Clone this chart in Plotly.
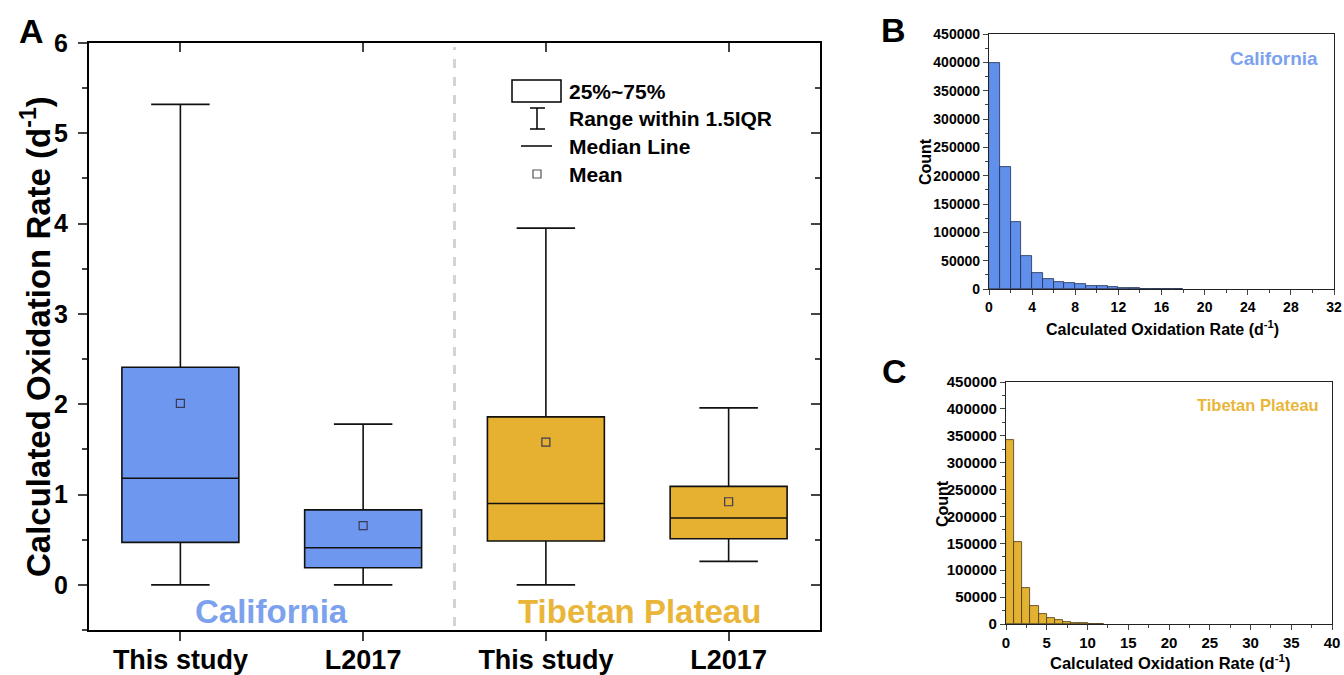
import plotly.graph_objects as go

# ---------------- data ----------------
groups = ["This study", "L2017", "This study", "L2017"]
regions = ["California", "California", "Tibetan Plateau", "Tibetan Plateau"]
q1 = [0.47, 0.19, 0.485, 0.51]
median = [1.18, 0.41, 0.90, 0.74]
q3 = [2.41, 0.83, 1.86, 1.09]
lower = [0.0, 0.0, 0.0, 0.26]
upper = [5.32, 1.78, 3.95, 1.96]
mean = [2.01, 0.655, 1.58, 0.92]

ca_bin_start = list(range(0, 18))
ca_counts = [398000, 216000, 118000, 57600, 28800, 17000, 12900, 10600, 8200, 5900,
             4700, 3500, 1800, 1200, 800, 400, 200, 100]

tp_bin_start = list(range(0, 12))
tp_counts = [342500, 152700, 66400, 34100, 19200, 10600, 6800, 4300, 2500, 1200,
             600, 250]

BLUE = "#6E97F0"
BLUE_H = "#6090EC"
GOLD = "#E6B030"
GOLD_H = "#E3B232"
BLUE_TXT = "#7CA2EE"
GOLD_TXT = "#E9B63A"
FONT = "Liberation Sans, Arial, sans-serif"

W, H = 1344, 675


def px(x):
    return x / W


def py(y):
    return 1 - y / H


fig = go.Figure()

box_colors = [BLUE, BLUE, GOLD, GOLD]
for i in range(len(groups)):
    fig.add_trace(go.Box(
        x=[i], q1=[q1[i]], median=[median[i]], q3=[q3[i]],
        lowerfence=[lower[i]], upperfence=[upper[i]],
        width=0.64, whiskerwidth=0.5,
        fillcolor=box_colors[i], line=dict(color="#111111", width=1.6),
        xaxis="x", yaxis="y", showlegend=False, boxpoints=False,
    ))
# means drawn on the overlaying (mirror) axes, which share the same ranges
fig.add_trace(go.Scatter(
    x=list(range(len(groups))), y=mean, mode="markers",
    marker=dict(symbol="square-open", size=8, color="#3a3a55", line=dict(width=1.2)),
    xaxis="x2", yaxis="y2", showlegend=False,
))

# histograms
fig.add_trace(go.Bar(x=ca_bin_start, y=ca_counts, width=1, offset=0,
                     marker=dict(color=BLUE_H, line=dict(color="#1f2f55", width=0.8)),
                     xaxis="x3", yaxis="y3", showlegend=False))
fig.add_trace(go.Bar(x=tp_bin_start, y=tp_counts, width=1, offset=0,
                     marker=dict(color=GOLD_H, line=dict(color="#4a3a10", width=0.8)),
                     xaxis="x4", yaxis="y4", showlegend=False))

axfont = dict(family=FONT, color="black", weight="bold")
common = dict(showgrid=False, zeroline=False, automargin=False)

fig.update_layout(
    width=W, height=H, margin=dict(l=0, r=0, t=0, b=0, autoexpand=False),
    paper_bgcolor="white", plot_bgcolor="white",
    font=dict(family=FONT, color="black"),
    bargap=0,
    xaxis=dict(domain=[px(89), px(820)], range=[-0.5, 3.5], tickvals=[0, 1, 2, 3],
               ticktext=groups, ticks="outside", ticklen=9, tickwidth=2,
               showline=True, linewidth=2, linecolor="black",
               tickfont=dict(size=27, **axfont), ticklabelstandoff=-4,
               anchor="y", **common),
    yaxis=dict(domain=[py(630), py(43)], range=[-0.5, 6], tick0=0, dtick=1,
               ticks="outside", ticklen=9, tickwidth=2,
               minor=dict(dtick=0.5, tick0=0, ticks="outside", ticklen=5, tickwidth=1.5),
               showline=True, linewidth=2, linecolor="black",
               tickfont=dict(size=25, **axfont), ticklabelstandoff=5,
               anchor="x", **common),
    xaxis2=dict(overlaying="x", matches="x", side="top", anchor="y2", tickvals=[0, 1, 2, 3],
                showticklabels=False, ticks="inside", ticklen=9, tickwidth=2,
                showline=True, linewidth=2, linecolor="black", **common),
    yaxis2=dict(overlaying="y", matches="y", side="right", anchor="x2", tick0=0, dtick=1,
                showticklabels=False, ticks="inside", ticklen=9, tickwidth=2,
                minor=dict(dtick=0.5, tick0=0, ticks="inside", ticklen=5, tickwidth=1.5),
                showline=True, linewidth=2, linecolor="black", **common),
    xaxis3=dict(domain=[px(989), px(1334)], range=[0, 32], dtick=4, ticks="outside",
                ticklen=5, tickwidth=1.3, minor=dict(dtick=2, ticks="outside", ticklen=3),
                showline=True, mirror=True, linewidth=1.3, linecolor="#222",
                tickfont=dict(size=14, **axfont), anchor="y3", **common),
    yaxis3=dict(domain=[py(289), py(34)], range=[0, 450000], dtick=50000, ticks="outside",
                ticklen=5, tickwidth=1.3, minor=dict(dtick=25000, ticks="outside", ticklen=3),
                showline=True, mirror=True, linewidth=1.3, linecolor="#222",
                tickfont=dict(size=14, **axfont), anchor="x3",
                tickformat="d", **common),
    xaxis4=dict(domain=[px(1006), px(1332)], range=[0, 40], dtick=5, ticks="outside",
                ticklen=5, tickwidth=1.3, minor=dict(dtick=2.5, ticks="outside", ticklen=3),
                showline=True, mirror=True, linewidth=1.3, linecolor="#222",
                tickfont=dict(size=15, **axfont), anchor="y4", **common),
    yaxis4=dict(domain=[py(624), py(382)], range=[0, 450000], dtick=50000, ticks="outside",
                ticklen=5, tickwidth=1.3, minor=dict(dtick=25000, ticks="outside", ticklen=3),
                showline=True, mirror=True, linewidth=1.3, linecolor="#222",
                tickfont=dict(size=15, **axfont), anchor="x4",
                tickformat="d", **common),
)

shapes = []
# dashed separator
shapes.append(dict(type="line", xref="x", yref="paper", x0=1.5, x1=1.5,
                   y0=py(626), y1=py(47), line=dict(color="#D3D3D3", width=3, dash="dash"),
                   layer="below"))
# legend glyphs
shapes.append(dict(type="rect", xref="paper", yref="paper", x0=px(512), x1=px(561),
                   y0=py(102), y1=py(80), line=dict(color="black", width=1.5),
                   fillcolor="white"))
shapes.append(dict(type="line", xref="paper", yref="paper", x0=px(537), x1=px(537),
                   y0=py(129), y1=py(108), line=dict(color="black", width=1.5)))
shapes.append(dict(type="line", xref="paper", yref="paper", x0=px(530), x1=px(545),
                   y0=py(108), y1=py(108), line=dict(color="black", width=1.5)))
shapes.append(dict(type="line", xref="paper", yref="paper", x0=px(530), x1=px(545),
                   y0=py(129), y1=py(129), line=dict(color="black", width=1.5)))
shapes.append(dict(type="line", xref="paper", yref="paper", x0=px(521), x1=px(552),
                   y0=py(146), y1=py(146), line=dict(color="black", width=1.5)))
shapes.append(dict(type="rect", xref="paper", yref="paper", x0=px(533), x1=px(541),
                   y0=py(178), y1=py(170), line=dict(color="#555", width=1.2)))
fig.update_layout(shapes=shapes)

ann = []
legend_txt = ["25%~75%", "Range within 1.5IQR", "Median Line", "Mean"]
legend_y = [91, 119, 146, 174]
for t, yy in zip(legend_txt, legend_y):
    ann.append(dict(text=t, xref="paper", yref="paper", x=px(567), y=py(yy),
                    xanchor="left", yanchor="middle", showarrow=False,
                    font=dict(size=21, **axfont)))
# region labels
ann.append(dict(text="California", xref="x", yref="y", x=0.5, y=-0.29,
                showarrow=False, xanchor="center", yanchor="middle",
                font=dict(size=33, family=FONT, color=BLUE_TXT, weight="bold")))
ann.append(dict(text="Tibetan Plateau", xref="x", yref="y", x=2.515, y=-0.29,
                showarrow=False, xanchor="center", yanchor="middle",
                font=dict(size=33, family=FONT, color=GOLD_TXT, weight="bold")))
# axis titles
ann.append(dict(text="Calculated Oxidation Rate (d<sup>-1</sup>)", xref="paper", yref="paper",
                x=px(36), y=py(337), textangle=-90, showarrow=False,
                xanchor="center", yanchor="middle", font=dict(size=33, **axfont)))
ann.append(dict(text="Count", xref="paper", yref="paper", x=px(925), y=py(162),
                textangle=-90, showarrow=False, xanchor="center", yanchor="middle",
                font=dict(size=16, **axfont)))
ann.append(dict(text="Calculated Oxidation Rate (d<sup>-1</sup>)", xref="paper", yref="paper",
                x=px(1162), y=py(328), showarrow=False, xanchor="center", yanchor="middle",
                font=dict(size=16, **axfont)))
ann.append(dict(text="Count", xref="paper", yref="paper", x=px(942), y=py(503),
                textangle=-90, showarrow=False, xanchor="center", yanchor="middle",
                font=dict(size=16, **axfont)))
ann.append(dict(text="Calculated Oxidation Rate (d<sup>-1</sup>)", xref="paper", yref="paper",
                x=px(1170), y=py(662), showarrow=False, xanchor="center", yanchor="middle",
                font=dict(size=16.5, **axfont)))
# in-panel labels
ann.append(dict(text="California", xref="paper", yref="paper", x=px(1320), y=py(58),
                showarrow=False, xanchor="right", yanchor="middle",
                font=dict(size=19, family=FONT, color=BLUE_TXT, weight="bold")))
ann.append(dict(text="Tibetan Plateau", xref="paper", yref="paper", x=px(1321), y=py(405),
                showarrow=False, xanchor="right", yanchor="middle",
                font=dict(size=16.5, family=FONT, color=GOLD_TXT, weight="bold")))
# panel letters
for letter, xx, yy in [("A", 31, 31), ("B", 893, 30), ("C", 894, 371)]:
    ann.append(dict(text=letter, xref="paper", yref="paper", x=px(xx), y=py(yy),
                    showarrow=False, xanchor="center", yanchor="middle",
                    font=dict(size=34, **axfont)))
fig.update_layout(annotations=ann)

fig.write_html("out.html")
